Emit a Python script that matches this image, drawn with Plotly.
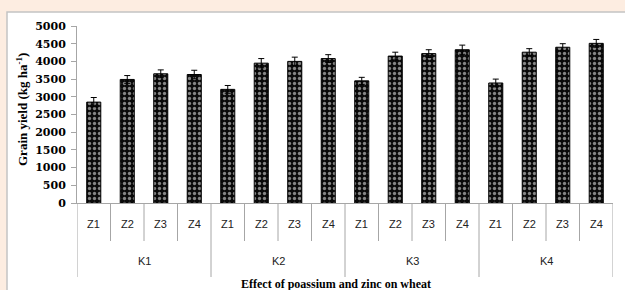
import plotly.graph_objects as go

# ---- data ----
k_levels = ["K1", "K2", "K3", "K4"]
z_levels = ["Z1", "Z2", "Z3", "Z4"]
grain_yield = [2850, 3490, 3650, 3630,
               3210, 3950, 4000, 4080,
               3450, 4150, 4220, 4330,
               3390, 4260, 4400, 4510]
yield_err = [130, 110, 110, 120,
             110, 130, 120, 110,
             100, 110, 110, 130,
             110, 100, 100, 110]
y_ticks = [0, 500, 1000, 1500, 2000, 2500, 3000, 3500, 4000, 4500, 5000]
x_title = "Effect of poassium and zinc on wheat"
y_title = "Grain yield (kg ha<sup>-1</sup>)"

categories = [f"{k}-{z}" for k in k_levels for z in z_levels]
n_z = len(z_levels)
n_cat = len(categories)

W, H = 625, 290
ML, MR, MT, MB = 77, 12, 26, 87
plot_w = W - ML - MR
plot_h = H - MT - MB


def py(pix):
    """pixel y -> paper y"""
    return (H - MB - pix) / plot_h


def px(pix):
    return (pix - ML) / plot_w


fig = go.Figure()
fig.add_trace(go.Bar(
    x=categories,
    y=grain_yield,
    width=0.42,
    marker=dict(
        color="#0a0a0a",
        line=dict(color="black", width=1),
        pattern=dict(shape=".", fgcolor="white", size=5, solidity=0.35),
    ),
    error_y=dict(type="data", array=yield_err, color="black",
                 thickness=1, width=3),
    showlegend=False,
))

grid_col = "#a6a6a6"
shapes = []
# white chart panel on the peach page
shapes.append(dict(type="rect", xref="paper", yref="paper",
                   x0=px(7), x1=px(640), y0=py(320), y1=py(12),
                   fillcolor="white", line=dict(color="#c4c4c4", width=1.5),
                   layer="below"))
# category table dividers
for i in range(n_cat + 1):
    long_line = (i % n_z == 0)
    shapes.append(dict(type="line", xref="x", yref="paper",
                       x0=i - 0.5, x1=i - 0.5,
                       y0=py(203), y1=py(277 if long_line else 241),
                       line=dict(color=grid_col, width=1)))

ann_base = dict(showarrow=False, xanchor="center", yanchor="middle")
annotations = []
for i, c in enumerate(categories):
    annotations.append(dict(x=i, y=py(224), xref="x", yref="paper",
                            text=c.split("-")[1], **ann_base,
                            font=dict(family="Liberation Sans", size=11, color="#222")))
for j, k in enumerate(k_levels):
    annotations.append(dict(x=j * n_z + (n_z - 1) / 2, y=py(261), xref="x", yref="paper",
                            text=k, **ann_base,
                            font=dict(family="Liberation Sans", size=11, color="#222")))
annotations.append(dict(x=px(336), y=py(283.5), xref="paper", yref="paper",
                        text=x_title, **ann_base,
                        font=dict(family="Liberation Serif", size=12, color="black", weight="bold")))
annotations.append(dict(x=px(22), y=py(110), xref="paper", yref="paper",
                        text=y_title, textangle=-90, **ann_base,
                        font=dict(family="Liberation Serif", size=13, color="black", weight="bold")))

fig.update_layout(
    width=W, height=H,
    margin=dict(l=ML, r=MR, t=MT, b=MB, autoexpand=False),
    paper_bgcolor="#fdede1",
    plot_bgcolor="rgba(0,0,0,0)",
    shapes=shapes,
    annotations=annotations,
    bargap=0.58,
)
fig.update_xaxes(showticklabels=False, showline=True, linecolor=grid_col,
                 linewidth=1, ticks="", showgrid=False, zeroline=False,
                 range=[-0.5, n_cat - 0.5], automargin=False)
fig.update_yaxes(range=[0, 5000], tickvals=y_ticks, showline=True,
                 linecolor=grid_col, linewidth=1, ticks="outside",
                 ticklen=5, tickcolor=grid_col, showgrid=False, zeroline=False,
                 tickfont=dict(family="DejaVu Serif", size=11,
                               color="black", weight="bold"),
                 ticklabelstandoff=3, automargin=False)

fig.write_html(
    "out.html",
    config={"displayModeBar": False},
    post_script="document.body.style.margin='0';document.body.style.overflow='hidden';"
                "document.body.style.background='#fdede1';",
)
